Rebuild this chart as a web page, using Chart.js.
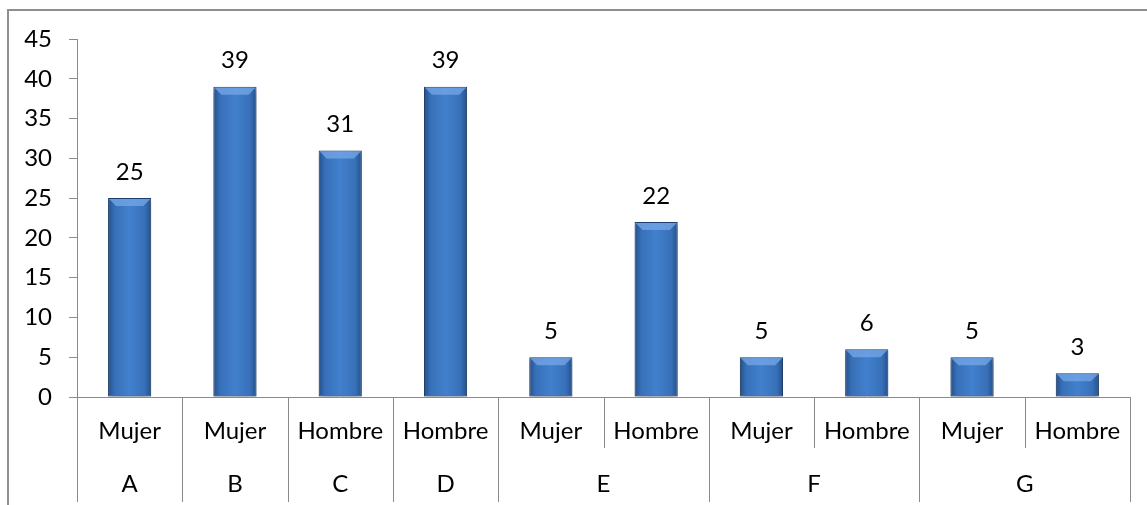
<!DOCTYPE html>
<html>
<head>
<meta charset="utf-8">
<script src="https://cdn.jsdelivr.net/npm/chart.js@4/dist/chart.umd.min.js"></script>
<style>
  html, body { margin: 0; padding: 0; background: #fff; overflow: hidden; }
  #grafico { display: block; }
</style>
</head>
<body>
<canvas id="grafico" width="1147" height="505"></canvas>
<script>
// datos
var categorias = ['Mujer', 'Mujer', 'Hombre', 'Hombre', 'Mujer', 'Hombre', 'Mujer', 'Hombre', 'Mujer', 'Hombre'];
var grupos = ['A', 'B', 'C', 'D', 'E', 'E', 'F', 'F', 'G', 'G'];
var valores = [25, 39, 31, 39, 5, 22, 5, 6, 5, 3];
var yMax = 45;
var yPaso = 5;

var fuente = 'Lato, "Noto Sans", sans-serif';
var tam = 24;
var gris = '#8a8a8a';
var anchoBarra = 0.41;

// degradado horizontal de cada barra
function colorBarra(ctx) {
  var chart = ctx.chart;
  var x = chart.scales.x;
  if (!x || ctx.dataIndex === undefined) return '#3d7cc9';
  var cx = x.getPixelForValue(ctx.dataIndex);
  var w = x.width / categorias.length * anchoBarra;
  if (!isFinite(cx) || !isFinite(w) || w <= 0) return '#3d7cc9';
  var g = chart.ctx.createLinearGradient(cx - w / 2, 0, cx + w / 2, 0);
  g.addColorStop(0, '#244f8a');
  g.addColorStop(0.15, '#3770b8');
  g.addColorStop(0.5, '#4280cd');
  g.addColorStop(0.85, '#3770b8');
  g.addColorStop(1, '#244f8a');
  return g;
}

var plugins = {
  id: 'extras',
  beforeDraw: function(chart) {
    var c = chart.ctx;
    c.save();
    c.strokeStyle = '#8f8f8f';
    c.lineWidth = 2;
    c.beginPath();
    c.moveTo(8, chart.height + 10);
    c.lineTo(8, 10);
    c.lineTo(chart.width + 10, 10);
    c.stroke();
    c.restore();
  },
  beforeDatasetsDraw: function(chart) {
    var c = chart.ctx;
    c.save();
    c.shadowColor = 'rgba(0,0,0,0.35)';
    c.shadowBlur = 5;
    c.shadowOffsetY = 3;
  },
  afterDatasetsDraw: function(chart) {
    var c = chart.ctx;
    c.restore();
    var meta = chart.getDatasetMeta(0);
    c.save();
    meta.data.forEach(function(bar, i) {
      var l = bar.x - bar.width / 2 + 1, r = bar.x + bar.width / 2 - 1, t = bar.y + 1;
      var b = Math.min(7, (bar.base - bar.y) / 2);
      // bisel superior
      c.fillStyle = 'rgba(115,165,230,0.8)';
      c.beginPath();
      c.moveTo(l, t);
      c.lineTo(r, t);
      c.lineTo(r - b, t + b);
      c.lineTo(l + b, t + b);
      c.closePath();
      c.fill();
      // etiqueta
      c.fillStyle = '#000';
      c.font = tam + 'px ' + fuente;
      c.textAlign = 'center';
      c.textBaseline = 'middle';
      c.fillText(String(valores[i]), bar.x, bar.y - 26);
    });
    c.restore();
  },
  afterDraw: function(chart) {
    var x = chart.scales.x;
    var c = chart.ctx;
    var n = categorias.length;
    var paso = x.width / n;
    var y0 = x.top;
    c.save();
    c.strokeStyle = gris;
    c.lineWidth = 1;
    for (var i = 0; i <= n; i++) {
      var px = Math.round(x.left + paso * i) + 0.5;
      var largo = (i === 0 || i === n || grupos[i] !== grupos[i - 1]);
      c.beginPath();
      c.moveTo(px, y0);
      c.lineTo(px, largo ? 502 : 448);
      c.stroke();
    }
    // etiquetas de grupo
    c.fillStyle = '#000';
    c.font = tam + 'px ' + fuente;
    c.textAlign = 'center';
    c.textBaseline = 'middle';
    var ini = 0;
    for (var j = 1; j <= n; j++) {
      if (j === n || grupos[j] !== grupos[ini]) {
        var centro = x.left + paso * (ini + j) / 2;
        c.fillText(grupos[ini], centro, 484);
        ini = j;
      }
    }
    c.restore();
  }
};

var ctx = document.getElementById('grafico').getContext('2d');
var myChart = new Chart(ctx, {
  type: 'bar',
  data: {
    labels: categorias,
    datasets: [{
      data: valores,
      backgroundColor: colorBarra,
      borderColor: '#1d3f70',
      borderWidth: 1,
      borderSkipped: false,
      categoryPercentage: 1,
      barPercentage: anchoBarra
    }]
  },
  options: {
    responsive: false,
    animation: false,
    layout: { padding: { left: 0, right: 17, top: 39, bottom: 0 } },
    plugins: { legend: { display: false }, tooltip: { enabled: false } },
    scales: {
      x: {
        grid: { display: false },
        border: { display: true, color: gris, width: 1 },
        ticks: {
          color: '#000',
          font: { family: fuente, size: tam },
          padding: 12,
          maxRotation: 0,
          autoSkip: false
        },
        afterFit: function(s) { s.height = 108; }
      },
      y: {
        min: 0,
        max: yMax,
        grid: { display: true, drawOnChartArea: false, drawTicks: true, tickLength: 8, color: gris },
        border: { display: true, color: gris, width: 1 },
        ticks: {
          stepSize: yPaso,
          color: '#000',
          font: { family: fuente, size: tam },
          padding: 17
        },
        afterFit: function(s) { s.width = 77; }
      }
    }
  },
  plugins: [plugins]
});
</script>
</body>
</html>
